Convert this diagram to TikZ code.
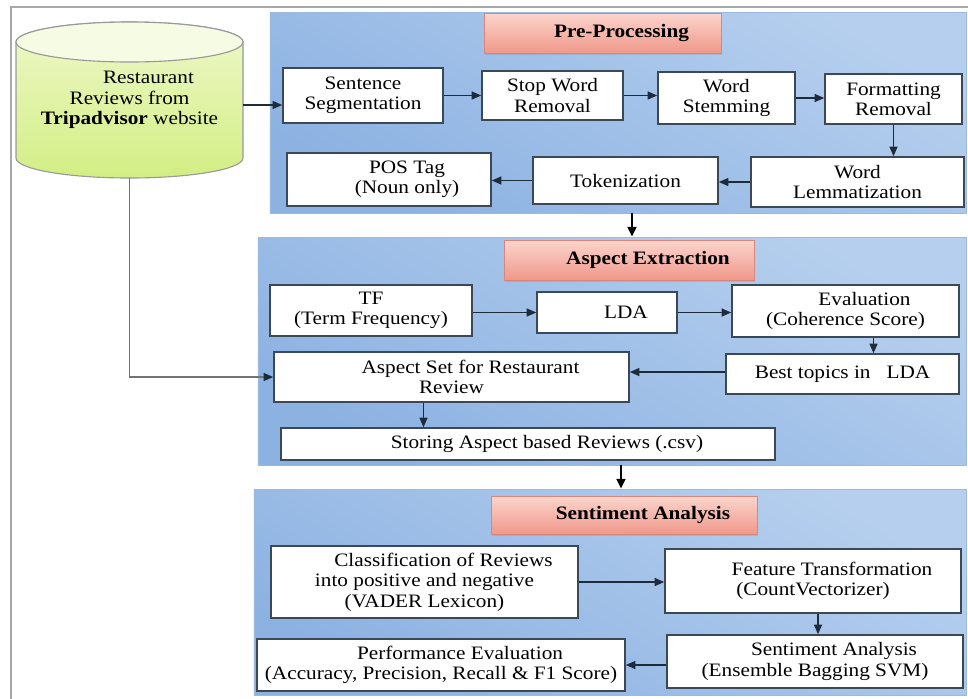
\documentclass[tikz,border=0pt]{standalone}
\usepackage{fontspec}
\setmainfont{Liberation Serif}[FakeStretch=1.12]
\usetikzlibrary{arrows.meta,shadows}

\definecolor{boxline}{HTML}{3B4856}
\definecolor{panellight}{HTML}{B6CFEE}
\definecolor{paneldark}{HTML}{8CB2E2}
\definecolor{panelline}{HTML}{9CB9E0}
\definecolor{pinklight}{HTML}{FBD5CD}
\definecolor{pinkdark}{HTML}{F0988A}
\definecolor{pinkline}{HTML}{D8887B}
\definecolor{dblight}{HTML}{F6FBE4}
\definecolor{dbtop}{HTML}{EEF8C9}
\definecolor{dbdark}{HTML}{D3EE84}
\definecolor{frameline}{HTML}{A8A8A8}
\definecolor{arrowc}{HTML}{1E2B3A}

\begin{document}
\begin{tikzpicture}[
    x=0.25mm, y=-0.25mm,
    panel/.style={draw=panelline, line width=0.6pt, top color=panellight, bottom color=paneldark, shading angle=-30, inner sep=0pt},
    title/.style={draw=pinkline, line width=0.6pt, top color=pinklight, bottom color=pinkdark, drop shadow={opacity=0.25, shadow xshift=0.3mm, shadow yshift=-0.6mm}, font=\fontsize{13.5}{14.5}\selectfont\bfseries, execute at begin node={\hspace*{9.5mm}}},
    box/.style={draw=boxline, line width=1.1pt, fill=white, align=center, inner sep=1pt, font=\fontsize{13.5}{14.5}\selectfont},
    dbtext/.style={align=center, inner sep=0pt, font=\fontsize{13.5}{14.5}\selectfont},
    arr/.style={-{Triangle[length=2.4mm,width=2mm]}, line width=0.9pt, draw=arrowc},
    bigarr/.style={-{Triangle[length=2.4mm,width=2.2mm]}, line width=1.4pt, draw=black},
    feed/.style={-{Triangle[length=2.4mm,width=2mm,color=arrowc]}, line width=0.8pt, draw=gray!90!black}
]
\useasboundingbox (0,0) rectangle (968,698);
\clip (0,0) rectangle (968,698);

% ---- frame ----
\draw[frameline, line width=1.2pt] (11,7) rectangle (990,720);

% ---- panels ----
\node[panel, minimum width=174mm, minimum height=50.25mm] (pp) at (618,112.5) {};
\node[panel, minimum width=177mm, minimum height=57mm] (ae) at (612,351) {};
\node[panel, minimum width=178mm, minimum height=51.5mm] (sa) at (610,592) {};

% ---- source (database) ----
\shade[top color=dbtop, bottom color=dbdark, draw=gray!80, line width=0.8pt]
    (16,42) -- (16,158) arc[start angle=180, end angle=0, x radius=113.5, y radius=20]
    -- (243,42) arc[start angle=0, end angle=-180, x radius=113.5, y radius=20] -- cycle;
\filldraw[fill=dblight, draw=gray!80, line width=0.8pt] (129.5,42) ellipse[x radius=113.5, y radius=20];
\node[dbtext, minimum width=56.75mm, minimum height=39mm] (src) at (129.5,100)
    {\hspace*{9.5mm}Restaurant\\Reviews from\\\textbf{Tripadvisor} website};

% ---- titles ----
\node[title, minimum width=59.25mm, minimum height=10mm] (ppt) at (602.5,33) {Pre-Processing};
\node[title, minimum width=62.5mm, minimum height=10mm] (aet) at (629,260) {Aspect Extraction};
\node[title, minimum width=66.5mm, minimum height=9.5mm] (sat) at (624,515) {Sentiment Analysis};

% ---- pre-processing ----
\node[box, minimum width=40mm, minimum height=13.75mm] (ss) at (363,95.5) {Sentence\\Segmentation};
\node[box, minimum width=35.25mm, minimum height=12.25mm] (swr) at (552.5,95.5) {Stop Word\\Removal};
\node[box, minimum width=34.25mm, minimum height=13mm] (ws) at (726.5,98) {Word\\Stemming};
\node[box, minimum width=34.25mm, minimum height=12.5mm] (fr) at (893.5,99) {Formatting\\Removal};
\node[box, minimum width=51mm, minimum height=13.25mm] (pos) at (389,179.5) {\hspace*{9mm}POS Tag\\\hspace*{9mm}(Noun only)};
\node[box, minimum width=46.25mm, minimum height=11.75mm] (tok) at (625.5,180.5) {Tokenization};
\node[box, minimum width=53.25mm, minimum height=12.5mm] (wl) at (857.5,182) {Word\\Lemmatization};

% ---- aspect extraction ----
\node[box, minimum width=50.5mm, minimum height=12.75mm] (tf) at (371,310.5) {TF\\(Term Frequency)};
\node[box, minimum width=35mm, minimum height=10.25mm] (lda) at (607,312.5) {\hspace*{9.5mm}LDA};
\node[box, minimum width=56.75mm, minimum height=13mm] (ev) at (845.5,311) {\hspace*{9.5mm}Evaluation\\(Coherence Score)};
\node[box, minimum width=58.25mm, minimum height=10mm] (best) at (842.5,374) {Best topics in\ \ \ LDA};
\node[box, minimum width=88.75mm, minimum height=12.5mm] (as) at (451.5,377) {\hspace*{9.5mm}Aspect Set for Restaurant\\Review};
\node[box, minimum width=123.5mm, minimum height=8mm] (st) at (528,444) {\hspace*{9.5mm}Storing Aspect based Reviews (.csv)};

% ---- sentiment analysis ----
\node[box, minimum width=76.75mm, minimum height=18mm] (cl) at (424.5,582) {\hspace*{9.5mm}Classification of Reviews\\into positive and negative\\(VADER Lexicon)};
\node[box, minimum width=74mm, minimum height=16mm] (ft) at (813,581) {\hspace*{9.5mm}Feature Transformation\\(CountVectorizer)};
\node[box, minimum width=74mm, minimum height=13.25mm] (sab) at (815,661.5) {\hspace*{9.5mm}Sentiment Analysis\\(Ensemble Bagging SVM)};
\node[box, minimum width=92mm, minimum height=13mm] (pe) at (441,665) {\hspace*{9.5mm}Performance Evaluation\\(Accuracy, Precision, Recall \& F1 Score)};

% ---- connectors ----
\draw[arr] ([yshift=-1.25mm]src.east) -- ([yshift=-1.25mm]src.east -| ss.west);
\draw[feed] (src.south) |- (as.west);

\draw[arr] (ss) -- (swr);
\draw[arr] (swr.east) -- (swr.east -| ws.west);
\draw[arr] (ws.east) -- (ws.east -| fr.west);
\draw[arr] (fr.south) -- (fr.south |- wl.north);
\draw[arr] (wl.west) -- (wl.west -| tok.east);
\draw[arr] (tok.west) -- (tok.west -| pos.east);

\draw[bigarr] ([xshift=3.5mm]pp.south) -- ([xshift=3.5mm]pp.south |- ae.north);

\draw[arr] (tf.east |- lda) -- (lda.west);
\draw[arr] (lda.east) -- (lda.east -| ev.west);
\draw[arr] ([xshift=7mm]ev.south) -- ([xshift=7mm]ev.south |- best.north);
\draw[arr] ([yshift=0.5mm]best.west) -- ([yshift=0.5mm]best.west -| as.east);
\draw[arr] ([xshift=-7mm]as.south) -- ([xshift=-7mm]as.south |- st.north);

\draw[bigarr] ([xshift=2.25mm]ae.south) -- ([xshift=2.25mm]ae.south |- sa.north);

\draw[arr] (cl.east) -- (cl.east -| ft.west);
\draw[arr] ([xshift=1.25mm]ft.south) -- ([xshift=1.25mm]ft.south |- sab.north);
\draw[arr] (pe.east -| sab.west) -- (pe.east);

\end{tikzpicture}
\end{document}
